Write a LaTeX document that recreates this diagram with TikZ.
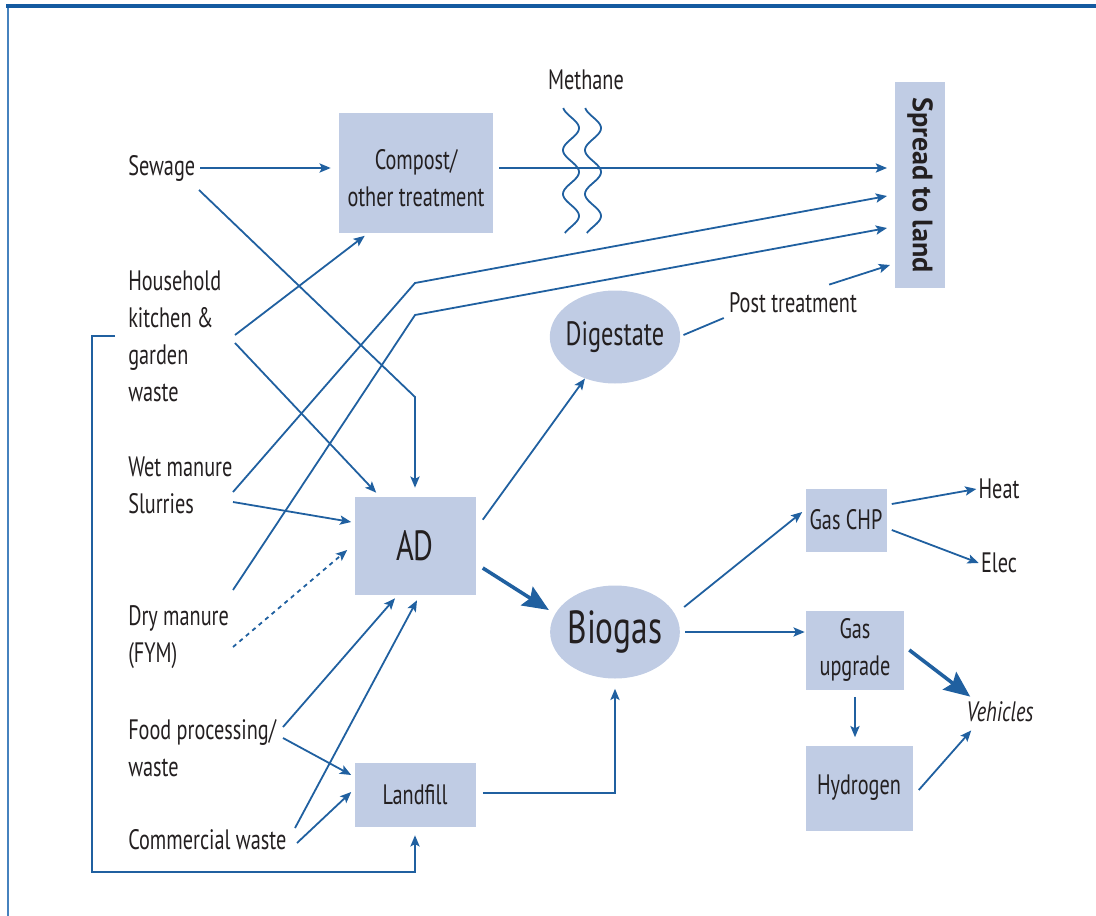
\documentclass[tikz,border=0pt]{standalone}
\usepackage{fontspec}
\setmainfont[FakeStretch=0.72]{PT Sans}
\newfontfamily\spreadfont{PT Sans}
\usetikzlibrary{shapes.geometric,arrows.meta,calc}

\definecolor{flowblue}{RGB}{32,96,160}
\definecolor{frameblue}{RGB}{20,90,160}
\definecolor{edgeblue}{RGB}{70,130,190}
\definecolor{boxfill}{RGB}{192,204,228}
\definecolor{inkgray}{RGB}{35,31,32}

\begin{document}
\begin{tikzpicture}
[x=0.25mm, y=-0.25mm,
 src/.style={anchor=west, inner sep=0pt, align=left, text=inkgray, font=\fontsize{20}{26.3}\selectfont},
 procbox/.style={fill=boxfill, inner sep=0pt, align=center, text=inkgray, font=\fontsize{20}{26.3}\selectfont},
 blob/.style={ellipse, fill=boxfill, inner ysep=0pt, text=inkgray},
 tag/.style={inner sep=0pt, text=inkgray, font=\fontsize{20}{26.3}\selectfont},
 link/.style={draw=flowblue, line width=0.45mm},
 flow/.style={link, -{Stealth[length=2.8mm,width=2.3mm,inset=0.6mm]}},
 bigflow/.style={draw=flowblue, line width=0.9mm, -{Stealth[length=6.5mm,width=5.5mm,inset=1mm]}}]

\useasboundingbox (0,0) rectangle (1096,916);

% frame
\draw[edgeblue, line width=0.5mm] (8,6) -- (8,916);
\draw[frameblue, line width=0.8mm] (6,6) -- (1096,6);

% sources
\node (sew) at (128,168) [src] {Sewage};
\node (hh) at (128,336) [src] {Household\\kitchen \&\\garden\\waste};
\node (wet) at (128,485) [src] {Wet manure\\Slurries};
\node (dry) at (128,637) [src] {Dry manure\\(FYM)};
\node (food) at (128,748) [src] {Food processing/\\waste};
\node (com) at (128,840) [src] {Commercial waste};

% processes
\node (comp) at (416,173) [procbox, minimum width=38.5mm, minimum height=29.75mm]
  {\raisebox{-3.7mm}[0pt][0pt]{\begin{tabular}{@{}c@{}}Compost/\\other treatment\end{tabular}}};
\node (spread) at (920,185) [procbox, rotate=-90, minimum width=51.5mm, minimum height=12.5mm,
  font=\spreadfont\bfseries\fontsize{20}{24}\selectfont] {Spread to land};
\node (ad) at (415,546) [procbox, minimum width=30.25mm, minimum height=24.5mm, font=\fontsize{30}{36}\selectfont] {AD};
\node (fill) at (415,795) [procbox, minimum width=30.25mm, minimum height=16mm] {Landfill};
\node (dig) at (615,337) [blob, inner xsep=-0.8mm, minimum height=23.25mm, font=\fontsize{24}{28}\selectfont] {Digestate};
\node (bio) at (615,632) [blob, inner xsep=-0.4mm, minimum height=23.25mm, font=\fontsize{33}{38}\selectfont] {Biogas};
\node (chp) at (846,520) [procbox, minimum width=20.25mm, minimum height=15.75mm] {Gas CHP};
\node (upg) at (855,650) [procbox, minimum width=24.5mm, minimum height=19.75mm] {Gas\\upgrade};
\node (hyd) at (859,788) [procbox, minimum width=26.75mm, minimum height=21.25mm] {Hydrogen};

% outputs and labels
\node (meth) at (586,80) [tag] {Methane};
\node (post) at (793,303) [tag] {Post treatment};
\node (heat) at (999,489) [tag] {Heat};
\node (elec) at (999,563) [tag] {Elec};
\node (veh) at (1000,712) [tag, font=\itshape\fontsize{20}{26.3}\selectfont] {Vehicles};

\coordinate (kneeA) at (415,283);
\coordinate (kneeB) at (415,315);
\coordinate (kneeC) at (415,397);
\coordinate (loop) at (92,872);

% to compost and land
\draw[flow] ($(sew.west)+(72,0)$) -- ($(comp.west)+(-8,-5)$);
\draw[flow] ($(comp.east)+(6,-5)$) -- ($(spread.center)+(-33,-17)$);
\draw[flow] ($(hh.west)+(107,-1)$) -- ($(comp.south west)+(26,3)$);
\draw[flow] ($(wet.west)+(105,7)$) -- (kneeA) -- ($(spread.center)+(-33,11)$);
\draw[flow] ($(dry.west)+(105,-47)$) -- (kneeB) -- ($(spread.center)+(-33,43)$);
\draw[link] ($(dig.east)+(3,-2)$) -- ($(post.west)+(-5,15)$);
\draw[flow] ($(post.north east)+(-28,-8)$) -- ($(spread.center)+(-30,80)$);

\foreach \cx in {571,593}
  \draw[link] plot[domain=108:233, samples=80, smooth] ({\cx+8*sin((\x-108)*8.2-75)}, \x);

% to AD and landfill
\draw[flow] ($(sew.west)+(71,22)$) -- (kneeC) -- ($(ad.north)+(0,-9)$);
\draw[flow] ($(hh.west)+(107,7)$) -- ($(ad.north west)+(22,-4)$);
\draw[flow] ($(wet.west)+(105,17)$) -- ($(ad.west)+(-3,-24)$);
\draw[flow, dashed] ($(dry.west)+(105,10)$) -- ($(ad.west)+(-7,4)$);
\draw[flow] ($(food.west)+(155,-21)$) -- ($(ad.south)+(-20,3)$);
\draw[flow] ($(food.west)+(155,-10)$) -- ($(fill.west)+(-3,-20)$);
\draw[flow] ($(com.west)+(167,-12)$) -- ($(ad.south)+(2,5)$);
\draw[flow] ($(com.west)+(169,3)$) -- ($(fill.west)+(-3,-3)$);
\draw[flow] ($(hh.west)+(-13,0)$) -| (loop) -| ($(fill.south)+(0,8)$);

% products
\draw[flow] ($(fill.east)+(7,-2)$) -| ($(bio.south)+(0,10)$);
\draw[flow] ($(ad.north east)+(7,23)$) -- (dig);
\draw[bigflow] ($(ad.east)+(7,22)$) -- ($(bio.west)+(-1,-22)$);
\draw[flow] ($(bio.east)+(4,-25)$) -- ($(chp.west)+(-3,-8)$);
\draw[flow] ($(bio.east)+(5,0)$) -- ($(upg.west)+(-1,-18)$);
\draw[flow] ($(chp.east)+(5,-16)$) -- ($(heat.west)+(-2,0)$);
\draw[flow] ($(chp.east)+(5,10)$) -- ($(elec.west)+(-2,0)$);
\draw[bigflow] ($(upg.east)+(5,0)$) -- ($(veh.north west)+(4,-5)$);
\draw[flow] ($(upg.south)+(0,7)$) -- ($(hyd.north)+(-4,-8)$);
\draw[flow] ($(hyd.east)+(6,2)$) -- ($(veh.south west)+(5,8)$);

\end{tikzpicture}
\end{document}
